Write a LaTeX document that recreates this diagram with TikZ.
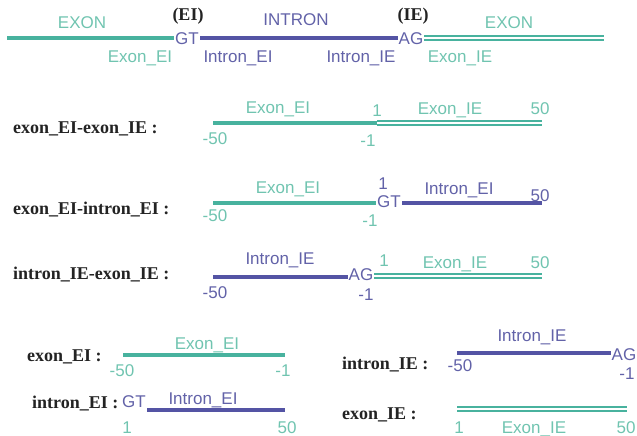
\documentclass[tikz,border=0pt]{standalone}
\usepackage{fontspec}
\setmainfont{Liberation Serif}
\setsansfont{Liberation Sans}

\definecolor{exonline}{RGB}{72,178,158}
\definecolor{exontext}{RGB}{112,196,176}
\definecolor{intronline}{RGB}{84,84,164}
\definecolor{introntext}{RGB}{98,98,168}
\definecolor{labeltext}{RGB}{35,35,35}

\tikzset{
  seqfont/.style={font=\sffamily\fontsize{17}{19}\selectfont},
  exonlbl/.style={seqfont, text=exontext, inner sep=0pt, anchor=base},
  intronlbl/.style={seqfont, text=introntext, inner sep=0pt, anchor=base},
  rowlbl/.style={font=\bfseries\fontsize{18}{20}\selectfont, text=labeltext, inner sep=0pt, anchor=base west},
  junctionlbl/.style={font=\bfseries\fontsize{18}{20}\selectfont, text=labeltext, inner sep=0pt, anchor=base},
  site/.style={seqfont, text=introntext, inner sep=1pt},
  exonseg/.style={draw=exonline, line width=3.4pt},
  intronseg/.style={draw=intronline, line width=3.4pt},
  exondbl/.style={draw=exonline, line width=1.5pt, double=white, double distance=2.4pt},
}

\begin{document}
\begin{tikzpicture}[x=1pt, y=-1pt]
\useasboundingbox (0,0) rectangle (637,436);

% ---------- full gene: exon / intron / exon ----------
\node[exonlbl]     (tEx1)  at (82,29)  {EXON};
\node[junctionlbl] (tEI)   at (188,21) {(EI)};
\node[intronlbl]   (tIn)   at (296,26) {INTRON};
\node[junctionlbl] (tIE)   at (413,21) {(IE)};
\node[exonlbl]     (tEx2)  at (509,29) {EXON};
\coordinate (a0) at (7,38);
\coordinate (a1) at (604,38);
\node[site] (gtA) at (187,39) {GT};
\node[site] (agA) at (411,39) {AG};
\draw[exonseg]   (a0) -- (a0 -| gtA.west);
\draw[intronseg] (a0 -| gtA.east) -- (a0 -| agA.west);
\draw[exondbl]   (a1 -| agA.east) -- (a1);
\node[exonlbl]   (tExEI) at (140,63) {Exon\_EI};
\node[intronlbl] (tInEI) at (238,63) {Intron\_EI};
\node[intronlbl] (tInIE) at (361,63) {Intron\_IE};
\node[exonlbl]   (tExIE) at (460,63) {Exon\_IE};

% ---------- exon_EI-exon_IE ----------
\node[rowlbl] (lb1) at (13,133) {exon\_EI-exon\_IE :};
\coordinate (b0) at (213,123);
\coordinate (b1) at (377,123);
\coordinate (b2) at (542,123);
\draw[exonseg] (b0) -- (b1);
\draw[exondbl] (b1) -- (b2);
\node[exonlbl] (bExEI) at (278,113) {Exon\_EI};
\node[exonlbl] (bm50)  at (215,144) {-50};
\node[exonlbl] (bp1)   at (377,116) {1};
\node[exonlbl] (bExIE) at (450,114) {Exon\_IE};
\node[exonlbl] (bp50)  at (540,114) {50};
\node[exonlbl] (bm1)   at (368,146) {-1};

% ---------- exon_EI-intron_EI ----------
\node[rowlbl] (lb2) at (13,214) {exon\_EI-intron\_EI :};
\coordinate (c0) at (213,203);
\coordinate (c1) at (542,203);
\node[site] (gtC) at (389,202) {GT};
\draw[exonseg]   (c0) -- (c0 -| gtC.west);
\draw[intronseg] (c1 -| gtC.east) -- (c1);
\node[exonlbl]   (cExEI) at (288,193) {Exon\_EI};
\node[exonlbl]   (cm50)  at (215,221) {-50};
\node[intronlbl] (cp1)   at (383,189) {1};
\node[intronlbl] (cInEI) at (459,194) {Intron\_EI};
\node[intronlbl] (cp50)  at (540,201) {50};
\node[exonlbl]   (cm1)   at (370,226) {-1};

% ---------- intron_IE-exon_IE ----------
\node[rowlbl] (lb3) at (13,279) {intron\_IE-exon\_IE :};
\coordinate (d0) at (213,277);
\coordinate (d1) at (542,276);
\node[site] (agD) at (361,275) {AG};
\draw[intronseg] (d0) -- (d0 -| agD.west);
\draw[exondbl]   (d1 -| agD.east) -- (d1);
\node[intronlbl] (dInIE) at (280,264) {Intron\_IE};
\node[intronlbl] (dm50)  at (215,298) {-50};
\node[exonlbl]   (dp1)   at (384,266) {1};
\node[exonlbl]   (dExIE) at (455,268) {Exon\_IE};
\node[exonlbl]   (dp50)  at (540,268) {50};
\node[intronlbl] (dm1)   at (366,300) {-1};

% ---------- exon_EI ----------
\node[rowlbl] (lb4) at (27,361) {exon\_EI :};
\coordinate (e0) at (123,355);
\coordinate (e1) at (285,355);
\draw[exonseg] (e0) -- (e1);
\node[exonlbl] (eExEI) at (207,349) {Exon\_EI};
\node[exonlbl] (em50)  at (122,376) {-50};
\node[exonlbl] (em1)   at (283,376) {-1};

% ---------- intron_EI ----------
\node[rowlbl] (lb5) at (32,408) {intron\_EI :};
\coordinate (f1) at (285,410);
\node[site] (gtF) at (134,402) {GT};
\draw[intronseg] (f1 -| gtF.east) -- (f1);
\node[intronlbl] (fInEI) at (203,404) {Intron\_EI};
\node[exonlbl]   (fp1)   at (127,433) {1};
\node[exonlbl]   (fp50)  at (287,433) {50};

% ---------- intron_IE ----------
\node[rowlbl] (lb6) at (342,369) {intron\_IE :};
\coordinate (g0) at (457,353);
\node[site, inner sep=0.5pt] (agG) at (624,355) {AG};
\draw[intronseg] (g0) -- (g0 -| agG.west);
\node[intronlbl] (gInIE) at (532,341) {Intron\_IE};
\node[intronlbl] (gm50)  at (460,371) {-50};
\node[intronlbl] (gm1)   at (627,379) {-1};

% ---------- exon_IE ----------
\node[rowlbl] (lb7) at (342,419) {exon\_IE :};
\coordinate (h0) at (457,409);
\coordinate (h1) at (627,409);
\draw[exondbl] (h0) -- (h1);
\node[exonlbl] (hp1)   at (459,433) {1};
\node[exonlbl] (hExIE) at (534,433) {Exon\_IE};
\node[exonlbl] (hp50)  at (626,433) {50};
\end{tikzpicture}
\end{document}
